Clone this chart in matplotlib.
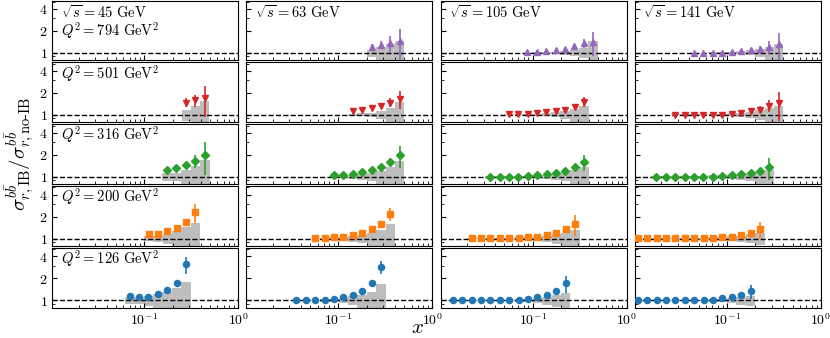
import numpy as np
import matplotlib.pyplot as plt
from matplotlib.ticker import FixedLocator, FuncFormatter, NullFormatter, LogLocator

plt.rcParams['mathtext.fontset'] = 'cm'
plt.rcParams['font.family'] = ['DejaVu Serif']

sqrt_s = [45, 63, 105, 141]
q2_values = [794, 501, 316, 200, 126]

# one list per sqrt(s) column: x, ratio, stat error, gray band (relative)
x_794 = [[],
         [0.2245, 0.2826, 0.3558, 0.4479],
         [0.0875, 0.110, 0.139, 0.175, 0.220, 0.277, 0.349, 0.44],
         [0.0448, 0.0564, 0.0711, 0.0894, 0.1126, 0.1417, 0.1784, 0.2246, 0.2828, 0.356]]
r_794 = [[],
         [1.19, 1.29, 1.35, 1.43],
         [1.02, 1.04, 1.06, 1.10, 1.13, 1.23, 1.35, 1.40],
         [1.0, 1.0, 1.0, 1.01, 1.03, 1.06, 1.10, 1.13, 1.22, 1.33]]
e_794 = [[],
         [0.13, 0.17, 0.33, 0.7],
         [0.01, 0.01, 0.02, 0.03, 0.04, 0.08, 0.2, 0.5],
         [0.01, 0.01, 0.01, 0.01, 0.02, 0.03, 0.06, 0.12, 0.25, 0.55]]
u_794 = [[],
         [0.11, 0.19, 0.33, 0.47],
         [0.01, 0.02, 0.03, 0.04, 0.06, 0.1, 0.16, 0.45],
         [0.01, 0.01, 0.02, 0.02, 0.03, 0.05, 0.08, 0.12, 0.2, 0.33]]

x_501 = [[0.28, 0.35, 0.44],
         [0.1417, 0.1784, 0.2246, 0.2827, 0.3559, 0.448],
         [0.0556, 0.070, 0.0881, 0.111, 0.140, 0.176, 0.221, 0.279, 0.351],
         [0.0283, 0.0356, 0.0448, 0.0564, 0.0710, 0.0894, 0.1126, 0.1417, 0.1784, 0.2246, 0.2828, 0.356]]
r_501 = [[1.47, 1.59, 1.69],
         [1.13, 1.16, 1.22, 1.32, 1.47, 1.64],
         [1.01, 1.01, 1.03, 1.05, 1.09, 1.13, 1.17, 1.29, 1.51],
         [1.0, 1.0, 1.0, 1.0, 1.0, 1.0, 1.01, 1.05, 1.11, 1.18, 1.33, 1.43]]
e_501 = [[0.2, 0.3, 0.75],
         [0.03, 0.04, 0.05, 0.1, 0.2, 0.45],
         [0.01, 0.01, 0.01, 0.02, 0.02, 0.03, 0.05, 0.08, 0.25],
         [0.01, 0.01, 0.01, 0.01, 0.01, 0.01, 0.01, 0.02, 0.04, 0.12, 0.25, 0.6]]
u_501 = [[0.17, 0.3, 0.55],
         [0.03, 0.05, 0.07, 0.12, 0.25, 0.5],
         [0.01, 0.02, 0.02, 0.03, 0.05, 0.08, 0.12, 0.2, 0.3],
         [0.01, 0.01, 0.01, 0.02, 0.02, 0.03, 0.05, 0.07, 0.1, 0.15, 0.22, 0.3]]

x_316 = [[0.175, 0.22, 0.278, 0.349, 0.44],
         [0.0894, 0.1125, 0.1417, 0.1784, 0.2246, 0.2827, 0.356, 0.448],
         [0.0353, 0.0444, 0.0559, 0.0704, 0.0886, 0.1115, 0.1404, 0.1768, 0.2226, 0.2802, 0.3528],
         [0.0178, 0.0224, 0.0282, 0.0356, 0.0448, 0.0564, 0.0710, 0.0894, 0.1126, 0.1417, 0.1784, 0.2246, 0.2828]]
r_316 = [[1.23, 1.30, 1.45, 1.66, 2.0],
         [1.05, 1.06, 1.10, 1.15, 1.22, 1.37, 1.60, 1.98],
         [1.0, 1.0, 1.0, 1.0, 1.02, 1.04, 1.09, 1.13, 1.21, 1.36, 1.59],
         [1.0, 1.0, 1.0, 1.0, 1.0, 1.0, 1.0, 1.02, 1.05, 1.09, 1.13, 1.21, 1.36]]
e_316 = [[0.05, 0.07, 0.12, 0.35, 0.95],
         [0.02, 0.02, 0.03, 0.04, 0.06, 0.1, 0.2, 0.68],
         [0.01, 0.01, 0.01, 0.01, 0.01, 0.01, 0.02, 0.03, 0.05, 0.15, 0.4],
         [0.01, 0.01, 0.01, 0.01, 0.01, 0.01, 0.01, 0.01, 0.02, 0.03, 0.05, 0.12, 0.45]]
u_316 = [[0.12, 0.12, 0.25, 0.4, 0.7],
         [0.03, 0.04, 0.06, 0.09, 0.13, 0.2, 0.35, 0.66],
         [0.01, 0.01, 0.02, 0.02, 0.03, 0.04, 0.06, 0.09, 0.14, 0.22, 0.34],
         [0.01, 0.01, 0.01, 0.02, 0.02, 0.03, 0.04, 0.05, 0.07, 0.1, 0.14, 0.2, 0.25]]

x_200 = [[0.111, 0.139, 0.176, 0.221, 0.278, 0.350],
         [0.0566, 0.0712, 0.0896, 0.1128, 0.142, 0.1788, 0.2251, 0.2834, 0.3568],
         [0.0224, 0.0282, 0.0355, 0.0447, 0.0563, 0.0709, 0.0892, 0.1123, 0.1414, 0.178, 0.2241, 0.2821],
         [0.0113, 0.0142, 0.0179, 0.0225, 0.0283, 0.0357, 0.0449, 0.0566, 0.0712, 0.0896, 0.1128, 0.1420,
          0.1788, 0.2251]]
r_200 = [[1.16, 1.17, 1.25, 1.40, 1.67, 2.29],
         [1.03, 1.03, 1.04, 1.06, 1.11, 1.20, 1.34, 1.60, 2.20],
         [1.02, 1.02, 1.02, 1.02, 1.02, 1.02, 1.04, 1.06, 1.11, 1.20, 1.34, 1.59],
         [1.01, 1.01, 1.01, 1.01, 1.01, 1.01, 1.01, 1.01, 1.01, 1.04, 1.06, 1.11, 1.20, 1.34]]
e_200 = [[0.03, 0.04, 0.05, 0.08, 0.15, 0.65],
         [0.01, 0.01, 0.02, 0.02, 0.03, 0.04, 0.06, 0.1, 0.45],
         [0.01, 0.01, 0.01, 0.01, 0.01, 0.01, 0.01, 0.02, 0.03, 0.04, 0.08, 0.5],
         [0.01, 0.01, 0.01, 0.01, 0.01, 0.01, 0.01, 0.01, 0.01, 0.01, 0.02, 0.04, 0.1, 0.35]]
u_200 = [[0.07, 0.1, 0.15, 0.27, 0.45, 0.65],
         [0.02, 0.03, 0.04, 0.06, 0.09, 0.13, 0.2, 0.3, 0.57],
         [0.01, 0.01, 0.02, 0.02, 0.03, 0.04, 0.05, 0.07, 0.1, 0.15, 0.2, 0.3],
         [0.01, 0.01, 0.01, 0.01, 0.02, 0.02, 0.03, 0.03, 0.04, 0.06, 0.08, 0.1, 0.14, 0.18]]

x_126 = [[0.0698, 0.0879, 0.1107, 0.139, 0.175, 0.221, 0.278],
         [0.0356, 0.0448, 0.0564, 0.0710, 0.0894, 0.1126, 0.1417, 0.1784, 0.2246, 0.2828],
         [0.01415, 0.0178, 0.0224, 0.0282, 0.0355, 0.0447, 0.0563, 0.0709, 0.0892, 0.1123, 0.1414, 0.178,
          0.2241],
         [0.0113, 0.0142, 0.0179, 0.0225, 0.0283, 0.0357, 0.0449, 0.0566, 0.0712, 0.0896, 0.1128, 0.1420,
          0.1788]]
r_126 = [[1.17, 1.11, 1.13, 1.22, 1.38, 1.76, 3.14],
         [1.03, 1.03, 1.03, 1.03, 1.05, 1.10, 1.18, 1.33, 1.71, 2.88],
         [1.01, 1.01, 1.01, 1.01, 1.01, 1.01, 1.01, 1.02, 1.05, 1.10, 1.18, 1.34, 1.71],
         [1.01, 1.01, 1.01, 1.01, 1.01, 1.01, 1.01, 1.01, 1.03, 1.07, 1.10, 1.18, 1.34]]
e_126 = [[0.03, 0.03, 0.04, 0.05, 0.07, 0.12, 0.8],
         [0.01, 0.01, 0.01, 0.01, 0.02, 0.02, 0.03, 0.04, 0.1, 0.6],
         [0.01, 0.01, 0.01, 0.01, 0.01, 0.01, 0.01, 0.01, 0.02, 0.03, 0.04, 0.1, 0.45],
         [0.01, 0.01, 0.01, 0.01, 0.01, 0.01, 0.01, 0.01, 0.01, 0.02, 0.03, 0.06, 0.3]]
u_126 = [[0.1, 0.1, 0.15, 0.22, 0.3, 0.5, 0.8],
         [0.01, 0.02, 0.03, 0.04, 0.06, 0.09, 0.14, 0.2, 0.3, 0.7],
         [0.01, 0.01, 0.01, 0.01, 0.02, 0.02, 0.03, 0.04, 0.06, 0.09, 0.13, 0.18, 0.25],
         [0.01, 0.01, 0.01, 0.01, 0.01, 0.02, 0.02, 0.03, 0.04, 0.06, 0.09, 0.12, 0.17]]

rows = [(x_794, r_794, e_794, u_794),
        (x_501, r_501, e_501, u_501),
        (x_316, r_316, e_316, u_316),
        (x_200, r_200, e_200, u_200),
        (x_126, r_126, e_126, u_126)]
colors = ['#9467bd', '#d62728', '#2ca02c', '#ff7f0e', '#1f77b4']
markers = ['^', 'v', 'D', 's', 'o']
msizes = [4.6, 4.6, 4.0, 4.0, 4.4]


def bin_edges(x):
    x = np.asarray(x, dtype=float)
    if len(x) == 1:
        return x / 1.122, x * 1.122
    mid = np.sqrt(x[1:] * x[:-1])
    lo = np.concatenate([[x[0] ** 2 / mid[0]], mid])
    hi = np.concatenate([mid, [x[-1] ** 2 / mid[-1]]])
    return lo, hi


fig, axes = plt.subplots(5, 4, figsize=(8.3, 3.38), dpi=100, sharex=True, sharey=True)
fig.subplots_adjust(left=0.063, right=0.989, top=0.9985, bottom=0.090, wspace=0.044, hspace=0.042)

for i, (xs, rs, es, us) in enumerate(rows):
    for j in range(4):
        ax = axes[i, j]
        ax.set_xscale('log')
        ax.set_yscale('log')
        ax.axhline(1.0, color='k', ls='--', lw=1.0, zorder=3)
        if len(xs[j]):
            lo, hi = bin_edges(xs[j])
            u = np.asarray(us[j])
            ax.bar(lo, 2 * u, width=hi - lo, bottom=1 - u, align='edge',
                   color='#bdbdbd', lw=0, zorder=1)
            ax.errorbar(xs[j], rs[j], yerr=es[j], fmt=markers[i], color=colors[i],
                        ms=msizes[i], elinewidth=1.2, capsize=0, zorder=4)
        ax.tick_params(which='both', direction='in', labelsize=10)
        ax.tick_params(which='major', length=3.5)
        ax.tick_params(which='minor', length=2)
        if i == 0:
            ax.text(0.045, 0.80, r'$\sqrt{s} = %d\ \mathrm{GeV}$' % sqrt_s[j],
                    transform=ax.transAxes, fontsize=10.5, va='center', ha='left')
            if j == 0:
                ax.text(0.045, 0.50, r'$Q^2 = %d\ \mathrm{GeV}^2$' % q2_values[i],
                        transform=ax.transAxes, fontsize=10.5, va='center', ha='left')
        elif j == 0:
            ax.text(0.045, 0.82, r'$Q^2 = %d\ \mathrm{GeV}^2$' % q2_values[i],
                    transform=ax.transAxes, fontsize=10.5, va='center', ha='left')

ax0 = axes[0, 0]
ax0.set_xlim(0.0105, 1.0)
ax0.set_ylim(0.8, 5.2)
ax0.yaxis.set_major_locator(FixedLocator([1, 2, 4]))
ax0.yaxis.set_major_formatter(FuncFormatter(lambda v, _: r'$%g$' % v))
ax0.yaxis.set_minor_formatter(NullFormatter())
ax0.xaxis.set_major_locator(LogLocator(base=10))
ax0.xaxis.set_major_formatter(FuncFormatter(lambda v, _: r'$10^{%d}$' % round(np.log10(v))))
ax0.xaxis.set_minor_formatter(NullFormatter())

fig.text(0.503, 0.003, r'$x$', fontsize=15, ha='center', va='bottom')
fig.text(0.004, 0.545,
         r'$\sigma^{b\bar{b}}_{r,\mathrm{IB}}/\sigma^{b\bar{b}}_{r,\mathrm{no\text{-}IB}}$',
         fontsize=15, rotation=90, ha='left', va='center')

fig.savefig('out.png', dpi=100)
